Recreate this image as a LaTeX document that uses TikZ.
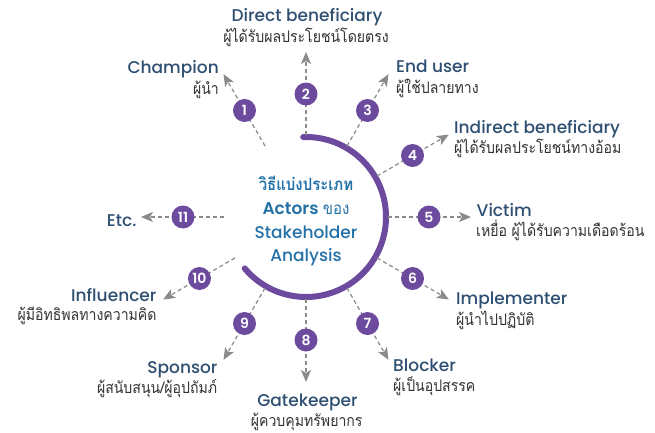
\documentclass[tikz,border=0pt]{standalone}
\usepackage{fontspec}
\usetikzlibrary{arrows.meta}
\newfontfamily\headfont{Poppins Medium}
\newfontfamily\numfont{Poppins SemiBold}
\newfontfamily\thaifont[Script=Thai,FakeStretch=0.88]{Loma}
\definecolor{purp}{HTML}{6C4A9E}
\definecolor{headblue}{HTML}{2F4F72}
\definecolor{ctrblue}{HTML}{2471A8}
\definecolor{greyline}{HTML}{8A8A8A}
\definecolor{thaigrey}{HTML}{333333}
\tikzset{
  head/.style={font=\headfont\fontsize{17}{20}\selectfont, text=headblue, inner sep=0pt},
  thai/.style={font=\thaifont\fontsize{16}{18}\selectfont, text=thaigrey, inner sep=0pt},
  ctr/.style={text=ctrblue, inner sep=0pt, anchor=base},
  marker/.style={circle, fill=purp, minimum size=23pt, inner sep=0pt, text=white, font=\numfont\fontsize{14}{14}\selectfont},
  conn/.style={draw=greyline, line width=1.2pt, dash pattern=on 4pt off 3pt},
  tip/.style={-{Stealth[length=12pt,width=10pt,inset=3pt,fill=greyline]}},
  ring/.style={draw=purp, line width=6pt, line cap=round}
}
\begin{document}
\begin{tikzpicture}[x=1pt,y=-1pt]
\useasboundingbox (0,0) rectangle (655,433);
\coordinate (c) at (306,217);
% ring
\draw[ring] (c) ++(-92:80) arc[start angle=-92,end angle=140,radius=80];
% spokes
\foreach \i/\a in {1/-120,2/-90,3/-60,4/-30,5/0,6/30,7/60,8/90,9/120,10/150,11/180} {
  \path (c) ++(\a:82) coordinate (s\i);
  \path (c) ++(\a:165) coordinate (e\i);
  \path (c) ++(\a:123) coordinate (p\i);
  \draw[conn] (s\i) -- (p\i);
  \draw[conn,tip] (p\i) -- (e\i);
  \node[marker] (m\i) at (p\i) {\i};
}
% centre text
\node[ctr, font=\thaifont\bfseries\fontsize{17}{20}\selectfont] (c1) at (306,190.7) {วิธีแบ่งประเภท};
\node[ctr, font=\headfont\fontsize{17}{20}\selectfont] (c2) at (306,214.3) {{\numfont Actors} {\thaifont ของ}};
\node[ctr, font=\headfont\fontsize{17}{20}\selectfont] (c3) at (306,238.3) {Stakeholder};
\node[ctr, font=\headfont\fontsize{17}{20}\selectfont] (c4) at (306,261.7) {Analysis};
% labels
\node[head, anchor=base east] (h1) at (219,74) {Champion};
\node[thai, anchor=base east] (t1) at (219,95) {ผู้นำ};
\node[head, anchor=base] (h2) at (307,21.7) {Direct beneficiary};
\node[thai, anchor=base] (t2) at (306,43) {ผู้ได้รับผลประโยชน์โดยตรง};
\node[head, anchor=base west] (h3) at (396,72.7) {End user};
\node[thai, anchor=base west] (t3) at (396,93.3) {ผู้ใช้ปลายทาง};
\node[head, anchor=base west] (h4) at (454,133.3) {Indirect beneficiary};
\node[thai, anchor=base west] (t4) at (454,153.3) {ผู้ได้รับผลประโยชน์ทางอ้อม};
\node[head, anchor=base west] (h5) at (476.5,216) {Victim};
\node[thai, anchor=base west] (t5) at (476,236.7) {เหยื่อ ผู้ได้รับความเดือดร้อน};
\node[head, anchor=base west] (h6) at (456,304) {Implementer};
\node[thai, anchor=base west] (t6) at (456,325) {ผู้นำไปปฏิบัติ};
\node[head, anchor=base west] (h7) at (393,371.7) {Blocker};
\node[thai, anchor=base west] (t7) at (393,391.7) {ผู้เป็นอุปสรรค};
\node[head, anchor=base] (h8) at (307.5,406) {Gatekeeper};
\node[thai, anchor=base] (t8) at (306.7,426.7) {ผู้ควบคุมทรัพยากร};
\node[head, anchor=base east] (h9) at (217.7,373.3) {Sponsor};
\node[thai, anchor=base east] (t9) at (217.3,393.3) {ผู้สนับสนุน/ผู้อุปถัมภ์};
\node[head, anchor=base east] (h10) at (156.7,301) {Influencer};
\node[thai, anchor=base east] (t10) at (156.7,320) {ผู้มีอิทธิพลทางความคิด};
\node[head, anchor=base east] (h11) at (136.7,226) {Etc.};
\end{tikzpicture}
\end{document}
